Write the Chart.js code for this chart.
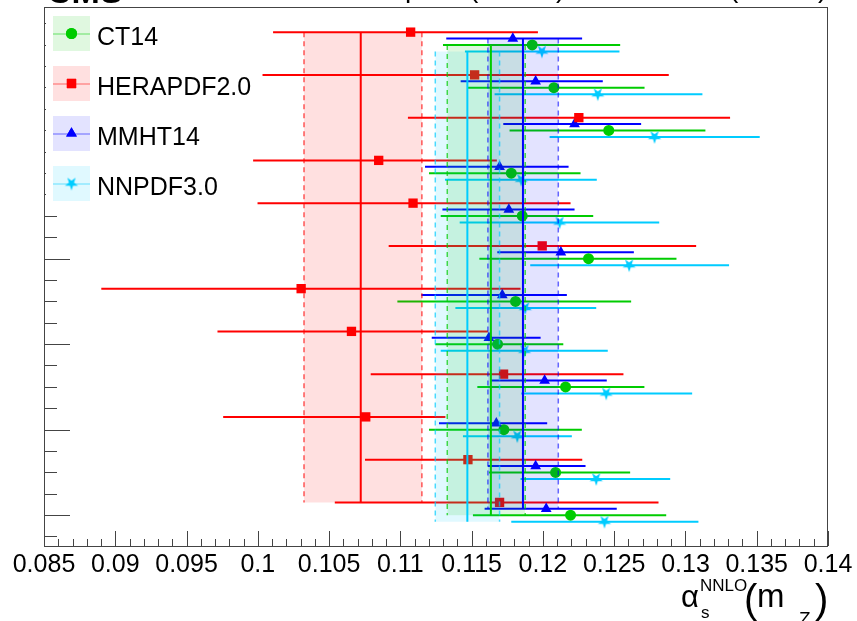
<!DOCTYPE html>
<html><head><meta charset="utf-8">
<script src="https://cdn.jsdelivr.net/npm/chart.js@4.4.1/dist/chart.umd.min.js"></script>
<style>html,body{margin:0;padding:0;background:#fff;}#wrap{width:857px;height:621px;}</style>
</head><body><div id="wrap"><canvas id="c" width="857" height="621"></canvas></div>
<script>
// ---- data (rows listed top to bottom) ----
const bins = [12, 11, 10, 9, 8, 7, 6, 5, 4, 3, 2, 1];
const seriesNames = ['CT14', 'HERAPDF2.0', 'MMHT14', 'NNPDF3.0'];
const xTickLabels = ['0.085','0.09','0.095','0.1','0.105','0.11','0.115','0.12','0.125','0.13','0.135','0.14'];

const ct14Val = [0.11925,0.12077,0.12462,0.11778,0.11855,0.12320,0.11808,0.11682,0.12159,0.11726,0.12089,0.12194];
const ct14Lo  = [0.11299,0.11474,0.11766,0.11201,0.11283,0.11554,0.10979,0.11245,0.11540,0.11201,0.11621,0.11509];
const ct14Hi  = [0.12542,0.12713,0.13140,0.12264,0.12353,0.12937,0.12619,0.12143,0.12712,0.12273,0.12612,0.12865];

const heraVal = [0.11072,0.11521,0.12252,0.10848,0.11089,0.11995,0.10304,0.10657,0.11724,0.10757,0.11474,0.11696];
const heraLo  = [0.10107,0.10033,0.11053,0.09967,0.09998,0.10918,0.08902,0.09717,0.10792,0.09757,0.10752,0.10540];
const heraHi  = [0.11965,0.12883,0.13313,0.11677,0.12194,0.13075,0.11843,0.11614,0.12565,0.11316,0.12276,0.12811];

const mmhtVal = [0.11789,0.11949,0.12222,0.11696,0.11761,0.12126,0.11715,0.11621,0.12012,0.11673,0.11949,0.12023];
const mmhtLo  = [0.11322,0.11423,0.11722,0.11173,0.11295,0.11680,0.11147,0.11220,0.11633,0.11271,0.11614,0.11591];
const mmhtHi  = [0.12275,0.12420,0.12689,0.12180,0.12222,0.12638,0.12168,0.11984,0.12448,0.12030,0.12299,0.12518];

const nnpdfVal = [0.11993,0.12385,0.12783,0.11848,0.12117,0.12605,0.11876,0.11871,0.12444,0.11820,0.12374,0.12432];
const nnpdfLo  = [0.11453,0.11661,0.12047,0.11313,0.11416,0.11911,0.11386,0.11283,0.11848,0.11439,0.11843,0.11778];
const nnpdfHi  = [0.12537,0.13119,0.13521,0.12378,0.12816,0.13306,0.12374,0.12455,0.13047,0.12203,0.12893,0.13091];

// combined values: [central, low edge, high edge]
const ct14Band  = [0.11635, 0.11329, 0.11876];
const heraBand  = [0.10722, 0.10324, 0.11151];
const mmhtBand  = [0.11860, 0.11614, 0.12108];
const nnpdfBand = [0.11470, 0.11245, 0.11696];

// ---- styling ----
const FONT = "'Liberation Sans', Arial, Helvetica, sans-serif";
function starCanvas(color, R) {
  const c = document.createElement('canvas');
  const s = Math.ceil(R * 2 + 2); c.width = s; c.height = s;
  const g = c.getContext('2d'); g.translate(s / 2, s / 2); g.beginPath();
  for (let k = 0; k < 10; k++) {
    const r = k % 2 ? R * 0.38 : R; const a = Math.PI / 2 + k * Math.PI / 5;
    g.lineTo(r * Math.cos(a), r * Math.sin(a));
  }
  g.closePath(); g.fillStyle = color; g.fill(); return c;
}
const series = [
  {name: seriesNames[1], val: heraVal, lo: heraLo, hi: heraHi, band: heraBand, off: 0.00, color: '#ff0000', dash: 'rgba(255,0,0,0.65)', fill: 'rgba(255,0,0,0.12)', pointStyle: 'rect', radius: 6.6},
  {name: seriesNames[2], val: mmhtVal, lo: mmhtLo, hi: mmhtHi, band: mmhtBand, off: -0.15, color: '#0000ff', dash: 'rgba(0,0,255,0.6)', fill: 'rgba(0,0,255,0.11)', pointStyle: 'triangle', radius: 6.2},
  {name: seriesNames[0], val: ct14Val, lo: ct14Lo, hi: ct14Hi, band: ct14Band, off: -0.30, color: '#00cc00', dash: 'rgba(0,204,0,0.7)', fill: 'rgba(0,200,0,0.12)', pointStyle: 'circle', radius: 5.5},
  {name: seriesNames[3], val: nnpdfVal, lo: nnpdfLo, hi: nnpdfHi, band: nnpdfBand, off: -0.45, color: '#00ccff', dash: 'rgba(0,204,255,0.7)', fill: 'rgba(0,204,255,0.12)', pointStyle: null, radius: 7}
];
series[3].pointStyle = starCanvas(series[3].color, 7);

const datasets = [];
series.forEach(s => {
  const bars = [];
  bins.forEach((g, i) => { const y = g + s.off; bars.push({x: s.lo[i], y}, {x: s.hi[i], y}, {x: s.hi[i], y: null}); });
  datasets.push({data: bars, borderColor: s.color, borderWidth: 2, pointRadius: 0, showLine: true, spanGaps: false, order: 3, fill: false});
  datasets.push({data: bins.map((g, i) => ({x: s.val[i], y: g + s.off})), showLine: false, pointStyle: s.pointStyle, pointRadius: s.radius,
    pointBackgroundColor: s.color, pointBorderColor: s.color, pointBorderWidth: 0, order: 2});
  const top = bins[0] + s.off, bot = bins[bins.length - 1] + s.off;
  datasets.push({data: [{x: s.band[1], y: top}, {x: s.band[2], y: top}], fill: {value: bot}, backgroundColor: s.fill, borderWidth: 0, pointRadius: 0, order: 1});
  datasets.push({data: [{x: s.band[1], y: top}, {x: s.band[1], y: bot}, {x: s.band[1], y: null}, {x: s.band[2], y: top}, {x: s.band[2], y: bot}],
    borderColor: s.dash, borderWidth: 1.5, borderDash: [5, 4], pointRadius: 0, spanGaps: false, fill: false, order: 0});
  datasets.push({data: [{x: s.band[0], y: top}, {x: s.band[0], y: bot}], borderColor: s.color, borderWidth: 2, pointRadius: 0, fill: false, order: 0});
});

const legendOrder = [2, 0, 1, 3]; // CT14, HERAPDF2.0, MMHT14, NNPDF3.0

const decor = {
  id: 'decor',
  afterDraw(chart) {
    const ctx = chart.ctx, xs = chart.scales.x, ys = chart.scales.y, a = chart.chartArea;
    ctx.save();
    // frame
    ctx.strokeStyle = '#444'; ctx.lineWidth = 1;
    ctx.strokeRect(Math.round(a.left) + 0.5, Math.round(a.top) + 0.5, Math.round(a.right - a.left) - 1, Math.round(a.bottom - a.top));
    // x ticks
    ctx.beginPath();
    for (let k = 0; k <= 55; k++) {
      const v = 0.085 + k * 0.001; const px = Math.round(xs.getPixelForValue(v)) + 0.5;
      const len = k % 5 === 0 ? 15 : 7;
      ctx.moveTo(px, a.bottom); ctx.lineTo(px, a.bottom - len);
    }
    // y ticks
    for (let k = 0; k < 30; k++) {
      const v = 0.205 + k * 0.5; if (v > ys.max) break;
      const py = Math.round(ys.getPixelForValue(v)) + 0.5;
      const len = (k % 4 === 1) ? 26 : 13;
      ctx.moveTo(a.left, py); ctx.lineTo(a.left + len, py);
    }
    ctx.stroke();
    // legend
    ctx.fillStyle = '#fff'; ctx.fillRect(a.left + 2, a.top + 1, 204, 200);
    legendOrder.forEach((si, j) => {
      const s = series[si]; const cy = 33.5 + j * 50;
      ctx.fillStyle = s.fill; ctx.fillRect(53, cy - 17.5, 37, 35);
      ctx.strokeStyle = s.color; ctx.globalAlpha = 0.55; ctx.lineWidth = 1.2;
      ctx.beginPath(); ctx.moveTo(53, cy + 0.5); ctx.lineTo(90, cy + 0.5); ctx.stroke(); ctx.globalAlpha = 1;
      ctx.fillStyle = s.color;
      if (typeof s.pointStyle === 'string') { Chart.helpers.drawPoint(ctx, {pointStyle: s.pointStyle, radius: s.radius, borderWidth: 0, rotation: 0}, 71.5, cy); ctx.fill(); }
      else { Chart.helpers.drawPoint(ctx, {pointStyle: s.pointStyle, radius: s.radius, borderWidth: 0, rotation: 0}, 71.5, cy); }
      ctx.fillStyle = '#000'; ctx.font = '25px ' + FONT; ctx.textBaseline = 'alphabetic'; ctx.textAlign = 'left';
      ctx.fillText(s.name, 97, cy + 11.5);
    });
    // axis title  alpha_s^NNLO (m_Z)
    ctx.fillStyle = '#000'; ctx.textBaseline = 'alphabetic';
    ctx.font = '31px ' + FONT; ctx.fillText('\u03b1', 681, 607);
    ctx.font = '17px ' + FONT; ctx.fillText('NNLO', 700, 591); ctx.fillText('s', 701, 618);
    ctx.font = '40px ' + FONT; ctx.fillText('(', 744, 613);
    ctx.font = '33px ' + FONT; ctx.fillText('m', 757, 607);
    ctx.font = '19px ' + FONT; ctx.fillText('Z', 799, 625);
    ctx.font = '40px ' + FONT; ctx.fillText(')', 815, 613);
    // cropped header
    ctx.font = 'bold 34px ' + FONT; ctx.fillText('CMS', 47, 3);
    ctx.font = '28px ' + FONT; ctx.fillText('p', 405, -3); ctx.fillText('(', 469, -3); ctx.fillText(')', 556, -3);
    ctx.fillText('(', 729, -3); ctx.fillText(')', 818, -3);
    ctx.restore();
  }
};

new Chart(document.getElementById('c'), {
  type: 'line',
  data: {datasets},
  options: {
    responsive: false, animation: false, events: [],
    layout: {padding: {left: 44, right: 29, top: 7, bottom: 0}},
    plugins: {legend: {display: false}, tooltip: {enabled: false}},
    scales: {
      x: {type: 'linear', min: 0.085, max: 0.14, grid: {display: false, drawTicks: false}, border: {display: false},
        ticks: {stepSize: 0.005, autoSkip: false, maxRotation: 0, padding: 4, color: '#000', font: {family: FONT, size: 25},
          callback: (v, i) => xTickLabels[i]},
        afterFit: s => { s.height = 75; }},
      y: {type: 'linear', min: -0.02, max: 12.588, display: false}
    }
  },
  plugins: [decor]
});
</script></body></html>
